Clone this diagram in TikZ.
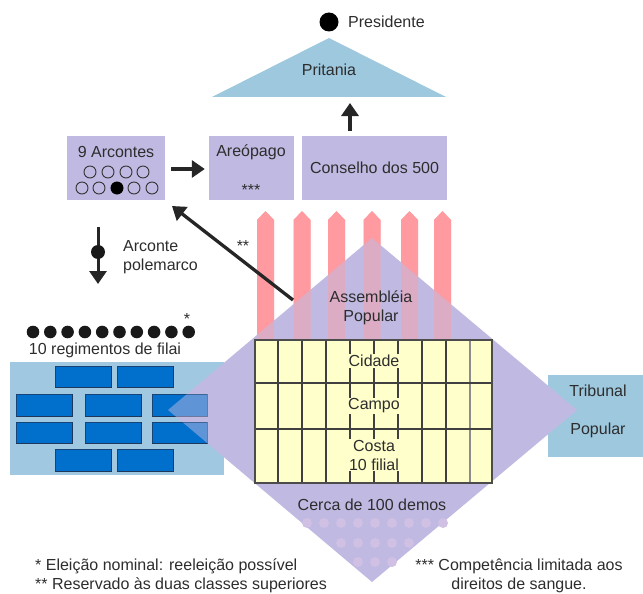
\documentclass[tikz,border=0pt]{standalone}
\usepackage{fontspec}
\setmainfont{Liberation Sans}
\usetikzlibrary{arrows.meta,calc}
\definecolor{lav}{RGB}{192,186,226}
\definecolor{pblue}{RGB}{160,200,224}
\definecolor{trib}{RGB}{158,200,222}
\definecolor{brickc}{RGB}{0,112,204}
\definecolor{brickb}{RGB}{30,55,90}
\definecolor{pinkc}{RGB}{255,154,160}
\definecolor{tabc}{RGB}{255,255,204}
\definecolor{dotc}{RGB}{207,192,228}
\definecolor{txt}{RGB}{45,45,45}
\tikzset{
  lbl/.style={font=\fontsize{16}{19}\selectfont, text=txt, inner sep=0pt},
  lavbox/.style={fill=lav, draw=none, inner sep=0pt},
  brick/.style={fill=brickc, draw=brickb, line width=1pt},
  pinkbar/.style={fill=pinkc, draw=none},
  bigarrow/.style={draw=black!85, line width=3.5pt, -{Triangle[length=13pt,width=17pt]}},
  cell/.style={fill=tabc, inner sep=1pt}
}
\begin{document}
\begin{tikzpicture}[x=1pt,y=-1pt]
\useasboundingbox (0,0) rectangle (643,594);

% regiments box and bricks
\fill[pblue] (10,362) rectangle (224,475);
\newcommand\bricks[1][]{%
  \foreach \a/\b/\c/\d in {55/366/111/387,117/366/173/387,
    16/394/72/416,85/394/141/416,152/394/207/416,
    16/422/72/443,85/422/141/443,152/422/207/443,
    55/449/111/471,117/449/173/471}
    {\draw[brick,#1] (\a,\b) rectangle (\c,\d);}}
\bricks

% tribunal box
\fill[trib] (548,375) rectangle (643,457);

% pink bars
\newcommand\pinkbars[1][]{%
  \foreach \c in {265.5,302,336.5,372,409.5,442.5}
    {\fill[pinkbar,#1] (\c-8.5,340) -- (\c-8.5,220) -- (\c,211) -- (\c+8.5,220) -- (\c+8.5,340) -- cycle;}}
\pinkbars

% diamond
\fill[lav] (372,238) -- (577,410) -- (372,582) -- (168,410) -- cycle;
\bricks[opacity=0.5]
\pinkbars[opacity=0.45]

% dots of demos
\foreach \k in {0,...,8} {\fill[dotc] (307+17*\k,523) circle (5);}
\foreach \k in {2,...,6} {\fill[dotc] (307+17*\k,543) circle (5);}
\foreach \k in {3,...,5} {\fill[dotc] (307+17*\k,562) circle (5);}

% table
\fill[tabc] (255,340) rectangle (492,483);
\foreach \x in {278,302,326,350,374,398,422,446}
  {\draw[black!75, line width=1.2pt] (\x,340) -- (\x,483);}
\draw[black!45, line width=1.2pt] (470,340) -- (470,483);
\draw[black!75, line width=1.2pt] (255,383) -- (492,383) (255,429) -- (492,429);
\draw[black!70, line width=1.2pt] (255,340) rectangle (492,483);
\node[lbl,cell] (cid) at (374,361) {Cidade};
\node[lbl,cell] (cam) at (374,406) {Campo};
\node[lbl,cell,align=center] (cos) at (374,455) {Costa\\10 filial};
\node[lbl] (cerca) at (372,505) {Cerca de 100 demos};
\node[lbl,align=center] (assem) at (371,308) {Assembléia\\Popular};

% tribunal text
\node[lbl] (tri1) at (598,391) {Tribunal};
\node[lbl] (tri2) at (598,430) {Popular};

% regiments
\foreach \k in {0,...,9} {\fill[black!90] (33+17.3*\k,332) circle (6.3);}
\node[lbl] (star1) at (187,319) {*};
\node[lbl] (regt) at (105,350) {10 regimentos de filai};

% top boxes
\node[lavbox, minimum width=98pt, minimum height=64pt] (arc) at (116,168) {};
\node[lbl] (arcT) at (116,152) {9 Arcontes};
\foreach \x in {90,108,126,143} {\draw[black!80, line width=0.9pt] (\x,172) circle (6);}
\foreach \x in {82,99,117,134,152} {\draw[black!80, line width=0.9pt] (\x,188) circle (6);}
\fill[black] (117,188) circle (6.3);

\node[lavbox, minimum width=85pt, minimum height=64pt] (areo) at (251.5,168) {};
\node[lbl] (areoT) at (251,152) {Areópago};
\node[lbl] (areoS) at (251,190) {***};

\node[lavbox, minimum width=145pt, minimum height=64pt] (cons) at (374.5,168) {};
\node[lbl] (consT) at (374.5,168) {Conselho dos 500};

% pritania
\fill[trib] (329,38) -- (446,97) -- (212,97) -- cycle;
\node[lbl] (prit) at (329,70) {Pritania};
\node[circle, fill=black, minimum size=19pt, inner sep=0pt] (pres) at (329,22) {};
\node[lbl, anchor=west] (presT) at (348,22) {Presidente};

% arrows
\draw[bigarrow] ($(arc.east)+(6,1)$) -- ($(areo.west)+(-4,1)$);
\coordinate (upA) at (350,131);
\coordinate (upB) at (350,103);
\draw[bigarrow] (upA) -- (upB);
\coordinate (diagA) at (293,300);
\coordinate (diagB) at (172,206);
\draw[bigarrow, line width=3.3pt] (diagA) -- (diagB);
\node[lbl] (dstar) at (243,246) {**};
\coordinate (polA) at (98,227);
\coordinate (polB) at (98,284);
\draw[bigarrow, line width=3pt] (polA) -- (polB);
\fill[black!90] (98,252) circle (7);
\node[lbl, align=left, anchor=west] (polT) at (123,257) {Arconte\\polemarco};

% footnotes
\node[lbl, anchor=west, align=left] (fn1) at (35,576) {* Eleição nominal: reeleição possível\\** Reservado às duas classes superiores};
\node[lbl, align=center] (fn2) at (519,576) {*** Competência limitada aos\\direitos de sangue.};
\end{tikzpicture}
\end{document}
